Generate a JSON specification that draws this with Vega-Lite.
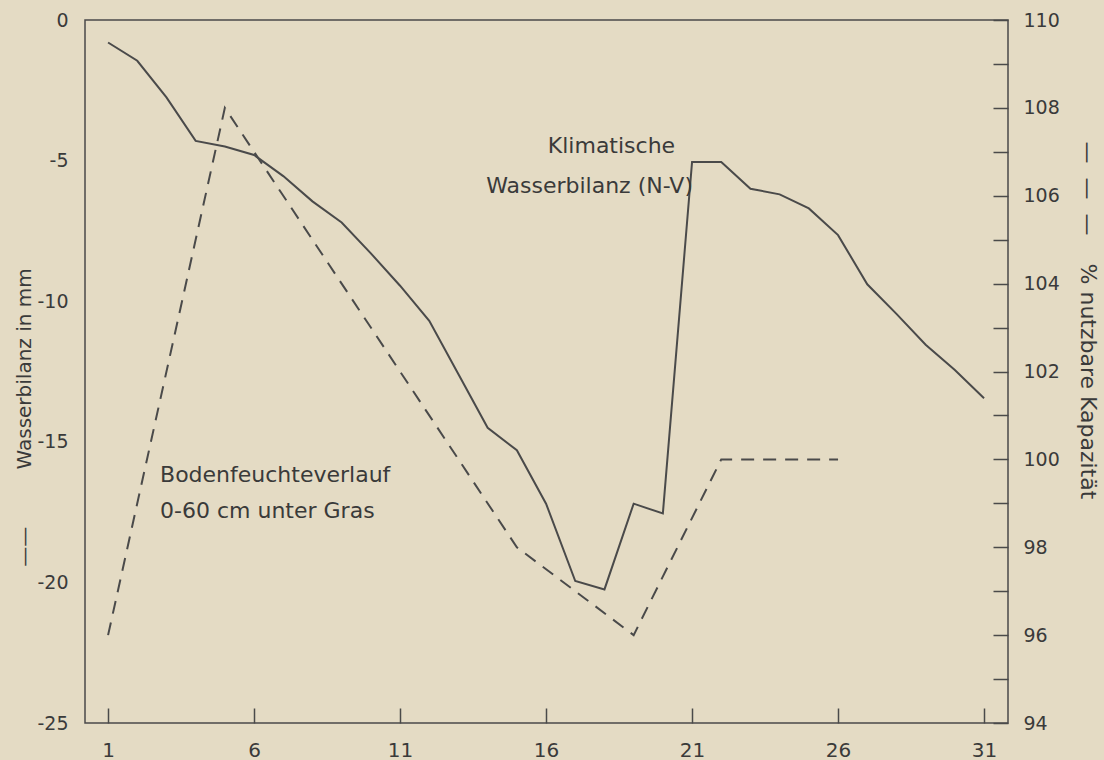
{
  "$schema": "https://vega.github.io/schema/vega-lite/v6.json",
  "width": 923,
  "height": 703,
  "autosize": {"type": "none"},
  "padding": {"left": 85, "top": 20, "right": 96, "bottom": 37},
  "background": "#e4dbc4",
  "config": {
    "view": {"stroke": "#4a4a4a", "strokeWidth": 1.5},
    "font": "DejaVu Sans",
    "axis": {
      "labelFont": "DejaVu Sans",
      "titleFont": "DejaVu Sans",
      "labelColor": "#3a3a3a",
      "titleColor": "#3a3a3a",
      "domain": false,
      "grid": false,
      "titleFontWeight": "normal",
      "labelFlush": false,
      "labelOverlap": false
    }
  },
  "datasets": {
    "wasserbilanz": [
      {"tag": 1, "v": -0.8},
      {"tag": 2, "v": -1.45},
      {"tag": 3, "v": -2.75},
      {"tag": 4, "v": -4.3},
      {"tag": 5, "v": -4.5},
      {"tag": 6, "v": -4.8},
      {"tag": 7, "v": -5.55},
      {"tag": 8, "v": -6.45},
      {"tag": 9, "v": -7.2},
      {"tag": 10, "v": -8.3},
      {"tag": 11, "v": -9.45},
      {"tag": 12, "v": -10.7},
      {"tag": 13, "v": -12.6},
      {"tag": 14, "v": -14.5},
      {"tag": 15, "v": -15.3},
      {"tag": 16, "v": -17.2},
      {"tag": 17, "v": -19.95},
      {"tag": 18, "v": -20.25},
      {"tag": 19, "v": -17.2},
      {"tag": 20, "v": -17.55},
      {"tag": 21, "v": -5.05},
      {"tag": 22, "v": -5.05},
      {"tag": 23, "v": -6.0},
      {"tag": 24, "v": -6.2},
      {"tag": 25, "v": -6.7},
      {"tag": 26, "v": -7.65},
      {"tag": 27, "v": -9.4},
      {"tag": 28, "v": -10.45},
      {"tag": 29, "v": -11.55},
      {"tag": 30, "v": -12.45},
      {"tag": 31, "v": -13.45}
    ],
    "bodenfeuchte": [
      {"tag": 1, "kap": 96},
      {"tag": 5, "kap": 108},
      {"tag": 15, "kap": 98},
      {"tag": 19, "kap": 96},
      {"tag": 22, "kap": 100},
      {"tag": 26, "kap": 100}
    ],
    "labels_center": [
      {"tag": 18.24, "v": -4.73, "t": "Klimatische"},
      {"tag": 17.49, "v": -6.15, "t": "Wasserbilanz (N-V)"}
    ],
    "labels_left": [
      {"tag": 2.78, "v": -16.43, "t": "Bodenfeuchteverlauf"},
      {"tag": 2.78, "v": -17.71, "t": "0-60 cm unter Gras"}
    ]
  },
  "layer": [
    {
      "layer": [
        {
          "data": {"name": "wasserbilanz"},
          "mark": {"type": "line", "color": "#4a4a4a", "strokeWidth": 2},
          "encoding": {
            "x": {
              "field": "tag",
              "type": "quantitative",
              "scale": {"domain": [0.21, 31.82], "nice": false, "zero": false},
              "axis": {
                "values": [1, 6, 11, 16, 21, 26, 31],
                "title": null,
                "tickSize": -15,
                "tickWidth": 1.5,
                "tickColor": "#4a4a4a",
                "labelPadding": 32,
                "labelFontSize": 20
              }
            },
            "y": {
              "field": "v",
              "type": "quantitative",
              "scale": {"domain": [-25, 0], "nice": false, "zero": false},
              "axis": {
                "values": [-25, -20, -15, -10, -5, 0],
                "labelExpr": "replace(datum.label, '\u2212', '-')",
                "ticks": false,
                "tickSize": 0,
                "labelPadding": 17,
                "labelFontSize": 19,
                "title": "\u2014\u2014\u00a0\u00a0\u00a0\u00a0\u00a0\u00a0\u00a0\u00a0\u00a0Wasserbilanz in mm",
                "titleFontSize": 20,
                "titleAngle": -90,
                "titleX": -61,
                "titleY": 397,
                "titleBaseline": "middle",
                "titleAlign": "center"
              }
            }
          }
        },
        {
          "data": {"name": "labels_center"},
          "mark": {"type": "text", "align": "center", "baseline": "alphabetic", "fontSize": 22, "color": "#3a3a3a", "font": "DejaVu Sans"},
          "encoding": {
            "x": {"field": "tag", "type": "quantitative"},
            "y": {"field": "v", "type": "quantitative"},
            "text": {"field": "t"}
          }
        },
        {
          "data": {"name": "labels_left"},
          "mark": {"type": "text", "align": "left", "baseline": "alphabetic", "fontSize": 22, "color": "#3a3a3a", "font": "DejaVu Sans"},
          "encoding": {
            "x": {"field": "tag", "type": "quantitative"},
            "y": {"field": "v", "type": "quantitative"},
            "text": {"field": "t"}
          }
        }
      ]
    },
    {
      "data": {"name": "bodenfeuchte"},
      "mark": {"type": "line", "color": "#4a4a4a", "strokeWidth": 2, "strokeDash": [13, 9]},
      "encoding": {
        "x": {"field": "tag", "type": "quantitative"},
        "y": {
          "field": "kap",
          "type": "quantitative",
          "scale": {"domain": [94, 110], "nice": false, "zero": false},
          "axis": {
            "orient": "right",
            "values": [94, 95, 96, 97, 98, 99, 100, 101, 102, 103, 104, 105, 106, 107, 108, 109, 110],
            "labelExpr": "datum.value % 2 === 0 ? datum.label : ''",
            "tickSize": -15,
            "tickWidth": 1.5,
            "tickColor": "#4a4a4a",
            "labelPadding": 30,
            "labelFontSize": 19,
            "encode": {"ticks": {"update": {"x2": {"signal": "datum.value % 2 === 0 ? -15 : -5"}}}},
            "title": "\u2014\u00a0\u00a0\u2014\u00a0\u00a0\u2014\u00a0\u00a0\u00a0\u00a0% nutzbare Kapazität",
            "titleFontSize": 22,
            "titleAngle": 90,
            "titleX": 79,
            "titleY": 300,
            "titleBaseline": "middle",
            "titleAlign": "center"
          }
        }
      }
    }
  ],
  "resolve": {"scale": {"y": "independent"}}
}
